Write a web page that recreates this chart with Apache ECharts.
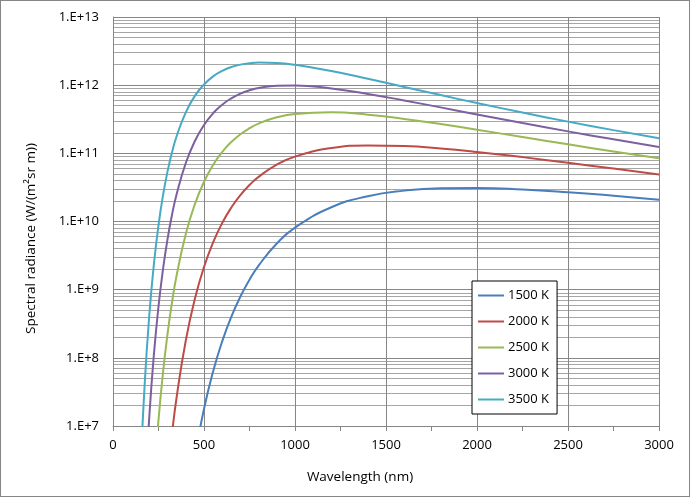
<!DOCTYPE html>
<html>
<head>
<meta charset="utf-8">
<script src="https://cdn.jsdelivr.net/npm/echarts@6/dist/echarts.min.js"></script>
<style>
  html, body { margin: 0; padding: 0; background: #fff; }
  #wrap { position: relative; width: 690px; height: 497px; }
  #chart { width: 690px; height: 497px; }
  #frame { position: absolute; left: 0; top: 0; width: 690px; height: 497px;
           box-sizing: border-box; border: 1px solid #868686; pointer-events: none; }
</style>
</head>
<body>
<div id="wrap">
  <div id="chart"></div>
  <div id="frame"></div>
</div>
<script>
// wavelength in nm
var wavelengths = [150, 175, 200, 225, 250, 275, 300, 325, 350, 400, 450, 500, 550, 600,
  650, 700, 750, 800, 900, 1000, 1200, 1400, 1600, 1800, 2000, 2250, 2500, 2750, 3000];

// spectral radiance, W/(m2 sr m)
var t1500 = [null, null, null, null, null, null, null, null, null, null,
  3.57e6, 1.776e7, 6.31e7, 1.747e8, 4.004e8, 7.93e8, 1.401e9, 2.256e9, 4.75e9, 8.13e9,
  1.617e10, 2.346e10, 2.837e10, 3.072e10, 3.10e10, 2.95e10, 2.688e10, 2.388e10, 2.089e10];
var t2000 = [null, null, null, null, null, null,
  1.89e6, 8.0e6, 2.685e7, 1.798e8, 7.36e8, 2.15e9, 4.94e9, 9.51e9, 1.602e10, 2.438e10,
  3.426e10, 4.52e10, 6.82e10, 8.95e10, 1.195e11, 1.306e11, 1.281e11, 1.18e11, 1.049e11,
  8.8e10, 7.27e10, 5.97e10, 4.9e10];
var t2500 = [null, null, null,
  1.61e6, 1.226e7, 6.17e7, 2.285e8, 6.7e8, 1.638e9, 6.56e9, 1.801e10, 3.82e10,
  6.75e10, 1.046e11, 1.466e11, 1.905e11, 2.335e11, 2.733e11, 3.375e11, 3.782e11, 3.99e11,
  3.69e11, 3.2e11, 2.686e11, 2.22e11, 1.734e11, 1.356e11, 1.066e11, 8.44e10];
var t3000 = [null,
  9.1e5, 1.433e7, 1.142e8, 5.68e8, 2.02e9, 5.59e9, 1.281e10, 2.538e10, 7.22e10,
  1.518e11, 2.602e11, 3.87e11, 5.17e11, 6.416e11, 7.51e11, 8.40e11, 9.08e11, 9.83e11,
  9.92e11, 8.96e11, 7.44e11, 5.97e11, 4.72e11, 3.72e11, 2.78e11, 2.1e11, 1.605e11, 1.242e11];
var t3500 = [1.96e6, 4.56e7, 4.41e8, 2.4e9, 8.81e9, 2.44e10, 5.48e10, 1.055e11,
  1.798e11, 4.0e11, 6.96e11, 1.024e12, 1.344e12, 1.623e12, 1.843e12, 2.001e12, 2.099e12,
  2.145e12, 2.116e12, 1.986e12, 1.609e12, 1.241e12, 9.42e11, 7.15e11, 5.47e11, 3.96e11,
  2.92e11, 2.19e11, 1.67e11];

var seriesNames = ["1500 K", "2000 K", "2500 K", "3000 K", "3500 K"];
var seriesColors = ["#4A7EBB", "#BE4B48", "#98B954", "#7D60A0", "#46AAC5"];
var seriesValues = [t1500, t2000, t2500, t3000, t3500];

var font = "'Open Sans', sans-serif";

function pairs(vals) {
  return wavelengths.map(function (w, i) { return [w, vals[i]]; });
}

var chart = echarts.init(document.getElementById("chart"));
chart.setOption({
  animation: false,
  textStyle: { fontFamily: font },
  grid: { left: 113, right: 31, top: 17, bottom: 71 },
  legend: {
    orient: "vertical",
    left: 472,
    top: 281,
    padding: [8, 8, 8, 5],
    backgroundColor: "#fff",
    borderColor: "#000",
    borderWidth: 1,
    itemWidth: 26,
    itemHeight: 14,
    itemGap: 13,
    itemStyle: { color: "transparent", borderColor: "transparent", borderWidth: 0 },
    textStyle: { fontFamily: font, fontSize: 13, color: "#000", padding: [0, 0, 0, -1] },
    data: seriesNames
  },
  xAxis: {
    type: "value",
    min: 0,
    max: 3000,
    interval: 500,
    name: "Wavelength (nm)",
    nameLocation: "middle",
    nameGap: 44,
    nameTextStyle: { fontFamily: font, fontSize: 13.5, color: "#000", padding: [0, 52, 0, 0] },
    axisLine: { lineStyle: { color: "#868686", width: 1 } },
    axisTick: { show: true, length: 5, lineStyle: { color: "#868686" } },
    minorTick: { show: true, splitNumber: 2, length: 5, lineStyle: { color: "#868686" } },
    axisLabel: {
      fontFamily: font, fontSize: 13, color: "#000", margin: 13,
      formatter: function (v) { return String(v); }
    },
    splitLine: { show: true, lineStyle: { color: "#868686", width: 1 } }
  },
  yAxis: {
    type: "log",
    logBase: 10,
    min: 1e7,
    max: 1e13,
    name: "Spectral radiance (W/(m²sr m))",
    nameLocation: "middle",
    nameGap: 75,
    nameTextStyle: { fontFamily: font, fontSize: 13.5, color: "#000", padding: [0, 34, 0, 0] },
    axisLine: { show: true, lineStyle: { color: "#868686", width: 1 } },
    axisTick: { show: false },
    axisLabel: {
      fontFamily: font, fontSize: 13, color: "#000", margin: 14,
      formatter: function (v) { return "1.E+" + Math.round(Math.log10(v)); }
    },
    splitLine: { show: true, lineStyle: { color: "#868686", width: 1 } },
    minorTick: { show: false, splitNumber: 9 },
    minorSplitLine: { show: true, lineStyle: { color: "#a6a6a6", width: 1 } }
  },
  series: seriesNames.map(function (name, i) {
    return {
      name: name,
      type: "line",
      data: pairs(seriesValues[i]),
      symbol: "none",
      smooth: 0.5,
      clip: true,
      color: seriesColors[i],
      lineStyle: { width: 2, color: seriesColors[i] }
    };
  })
});
</script>
</body>
</html>
